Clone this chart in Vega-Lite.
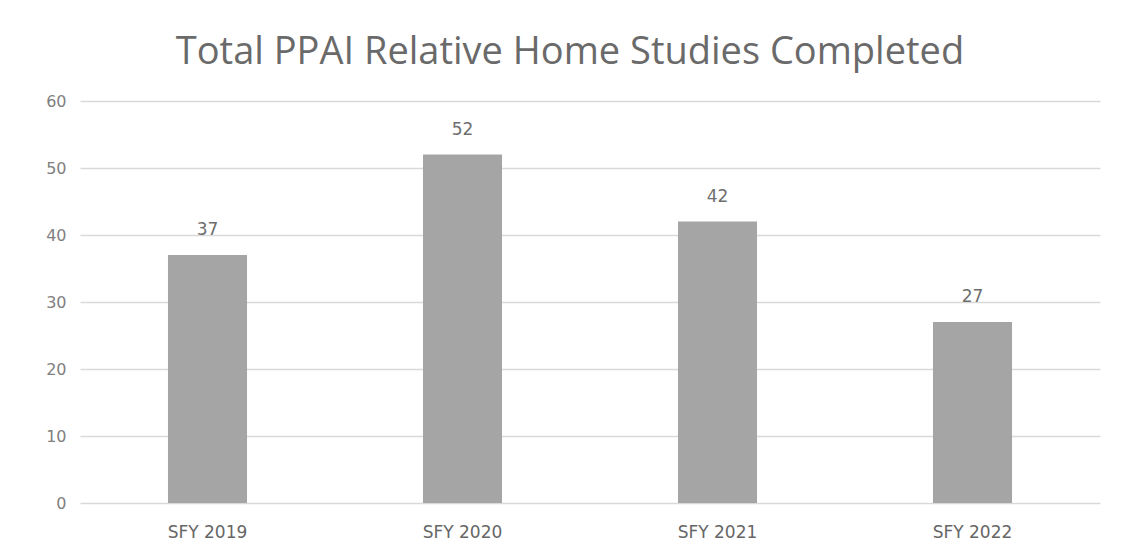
{
  "$schema": "https://vega.github.io/schema/vega-lite/v6.json",
  "autosize": {"type": "none"},
  "width": 1020,
  "height": 402,
  "padding": {"left": 80, "top": 101, "right": 23, "bottom": 55},
  "background": "white",
  "title": {
    "text": "Total PPAI Relative Home Studies Completed",
    "font": "Open Sans",
    "fontSize": 38,
    "fontWeight": "normal",
    "color": "#6a6a6a",
    "anchor": "middle",
    "baseline": "alphabetic",
    "offset": 36,
    "dy": 45,
    "dx": -20
  },
  "data": {
    "values": [
      {"year": "SFY 2019", "count": 37},
      {"year": "SFY 2020", "count": 52},
      {"year": "SFY 2021", "count": 42},
      {"year": "SFY 2022", "count": 27}
    ]
  },
  "encoding": {
    "x": {
      "field": "year",
      "type": "nominal",
      "sort": null,
      "scale": {"paddingInner": 0.69, "paddingOuter": 0.345},
      "axis": {
        "title": null,
        "labelAngle": 0,
        "labelFont": "DejaVu Sans",
        "labelFontSize": 17,
        "labelColor": "#666666",
        "labelPadding": 21,
        "domain": false,
        "ticks": false
      }
    },
    "y": {
      "field": "count",
      "type": "quantitative",
      "scale": {"domain": [0, 60]},
      "axis": {
        "title": null,
        "values": [0, 10, 20, 30, 40, 50, 60],
        "labelFont": "DejaVu Sans",
        "labelFontSize": 16,
        "labelColor": "#808080",
        "labelPadding": 14,
        "domain": false,
        "ticks": false,
        "gridColor": "#d9d9d9",
        "gridWidth": 1.5
      }
    }
  },
  "layer": [
    {"mark": {"type": "bar", "color": "#a5a5a5"}},
    {
      "mark": {"type": "text", "dy": -25, "font": "DejaVu Sans", "fontSize": 17, "color": "#6e6e6e"},
      "encoding": {"text": {"field": "count", "type": "quantitative"}}
    }
  ],
  "config": {"view": {"stroke": null}}
}
